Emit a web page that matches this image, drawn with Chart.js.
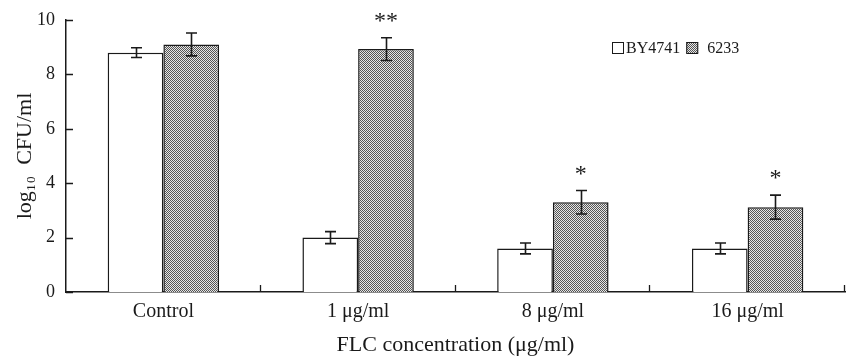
<!DOCTYPE html>
<html>
<head>
<meta charset="utf-8">
<script src="https://cdn.jsdelivr.net/npm/chart.js@4/dist/chart.umd.min.js"></script>
<style>
  html, body { margin: 0; padding: 0; background: #fff; }
  #wrap { width: 851px; height: 358px; }
</style>
</head>
<body>
<div id="wrap"><canvas id="cfuChart"></canvas></div>
<script>
// Data
const categories = ["Control", "1 μg/ml", "8 μg/ml", "16 μg/ml"];
const seriesNames = ["BY4741", "6233"];
const by4741 = [8.8, 2.0, 1.6, 1.6];
const by4741Err = [0.18, 0.22, 0.2, 0.2];
const strain6233 = [9.1, 8.93, 3.3, 3.12];
const strain6233Err = [0.42, 0.42, 0.43, 0.44];
const stars6233 = ["", "**", "*", "*"];
const yTicks = [0, 2, 4, 6, 8, 10];

const FONT = "'Liberation Serif', 'DejaVu Serif', serif";
const INK = "#1a1a1a";

// Checkered grey fill like the print hatching
function makeHatch() {
  const c = document.createElement("canvas");
  c.width = 2; c.height = 2;
  const g = c.getContext("2d");
  g.fillStyle = "#e6e6e6";
  g.fillRect(0, 0, 2, 2);
  g.fillStyle = "#555555";
  g.fillRect(0, 0, 1, 1);
  g.fillRect(1, 1, 1, 1);
  return g.createPattern(c, "repeat");
}
const hatch = makeHatch();

// Error bars, stars, inward ticks, legend
const extras = {
  id: "extras",
  afterDatasetsDraw(chart) {
    const ctx = chart.ctx;
    const y = chart.scales.y;
    const x = chart.scales.x;
    const area = chart.chartArea;
    ctx.save();
    ctx.strokeStyle = INK;
    ctx.lineWidth = 1.6;

    const errs = [by4741Err, strain6233Err];
    const vals = [by4741, strain6233];
    chart.data.datasets.forEach((ds, d) => {
      chart.getDatasetMeta(d).data.forEach((bar, i) => {
        const top = y.getPixelForValue(vals[d][i] + errs[d][i]);
        const bot = y.getPixelForValue(vals[d][i] - errs[d][i]);
        const cx = Math.round(bar.x) + 0.5;
        ctx.beginPath();
        ctx.moveTo(cx, top); ctx.lineTo(cx, bot);
        ctx.moveTo(cx - 5.5, top); ctx.lineTo(cx + 5.5, top);
        ctx.moveTo(cx - 5.5, bot); ctx.lineTo(cx + 5.5, bot);
        ctx.stroke();
      });
    });

    // significance stars above 6233 bars
    ctx.fillStyle = INK;
    ctx.font = "24px " + FONT;
    ctx.textAlign = "center";
    ctx.textBaseline = "middle";
    chart.getDatasetMeta(1).data.forEach((bar, i) => {
      if (!stars6233[i]) return;
      const top = y.getPixelForValue(strain6233[i] + strain6233Err[i]);
      ctx.fillText(stars6233[i], bar.x, top - 16);
    });

    // inward tick marks
    ctx.lineWidth = 1.3;
    ctx.beginPath();
    yTicks.forEach(v => {
      const py = Math.round(y.getPixelForValue(v)) + 0.5;
      ctx.moveTo(area.left, py); ctx.lineTo(area.left + 7, py);
    });
    const w = (x.right - x.left) / categories.length;
    for (let i = 1; i <= categories.length; i++) {
      const px = Math.round(x.left + i * w) - 0.5;
      ctx.moveTo(px, area.bottom); ctx.lineTo(px, area.bottom - 7);
    }
    ctx.stroke();

    // legend
    ctx.font = "16px " + FONT;
    ctx.textAlign = "left";
    ctx.textBaseline = "middle";
    let lx = 612;
    const ly = 48;
    chart.data.datasets.forEach((ds, d) => {
      ctx.fillStyle = ds.backgroundColor;
      ctx.fillRect(lx, ly - 6, 12, 12);
      ctx.strokeStyle = INK;
      ctx.lineWidth = 1;
      ctx.strokeRect(lx + 0.5, ly - 5.5, 11, 11);
      ctx.fillStyle = INK;
      const tx = lx + (d === 0 ? 14 : 21);
      ctx.fillText(ds.label, tx, ly + 1);
      lx = tx + ctx.measureText(ds.label).width + 6;
    });
    ctx.restore();
  }
};

new Chart(document.getElementById("cfuChart"), {
  type: "bar",
  data: {
    labels: categories,
    datasets: [
      {
        label: seriesNames[0],
        data: by4741,
        backgroundColor: "#ffffff",
        borderColor: INK,
        borderWidth: 1.5,
        borderSkipped: "bottom",
        categoryPercentage: 0.572,
        barPercentage: 1
      },
      {
        label: seriesNames[1],
        data: strain6233,
        backgroundColor: hatch,
        borderColor: INK,
        borderWidth: 1.5,
        borderSkipped: "bottom",
        categoryPercentage: 0.572,
        barPercentage: 1
      }
    ]
  },
  options: {
    responsive: true,
    maintainAspectRatio: false,
    animation: false,
    layout: { padding: { top: 20, right: 6, left: 0, bottom: 0 } },
    plugins: {
      legend: { display: false },
      tooltip: { enabled: false }
    },
    scales: {
      x: {
        grid: { display: false, drawTicks: false },
        border: { display: true, color: INK, width: 1.5 },
        ticks: { color: INK, font: { family: FONT, size: 20 }, padding: 8 },
        title: {
          display: true,
          text: "FLC concentration (μg/ml)",
          color: INK,
          font: { family: FONT, size: 22 },
          padding: { top: 2, bottom: 0 }
        },
        afterFit: s => { s.height = 66; }
      },
      y: {
        min: 0,
        max: 10,
        afterBuildTicks: s => { s.ticks = yTicks.map(v => ({ value: v })); },
        grid: { display: false, drawTicks: false },
        border: { display: true, color: INK, width: 1.5 },
        ticks: { color: INK, font: { family: FONT, size: 18 }, padding: 11 },
        title: {
          display: true,
          text: "log₁₀  CFU/ml",
          color: INK,
          font: { family: FONT, size: 22 },
          padding: { top: 12, bottom: 4 }
        },
        afterFit: s => { s.width = 66; s.paddingTop = 0; s.paddingBottom = 0; }
      }
    }
  },
  plugins: [extras]
});
</script>
</body>
</html>
